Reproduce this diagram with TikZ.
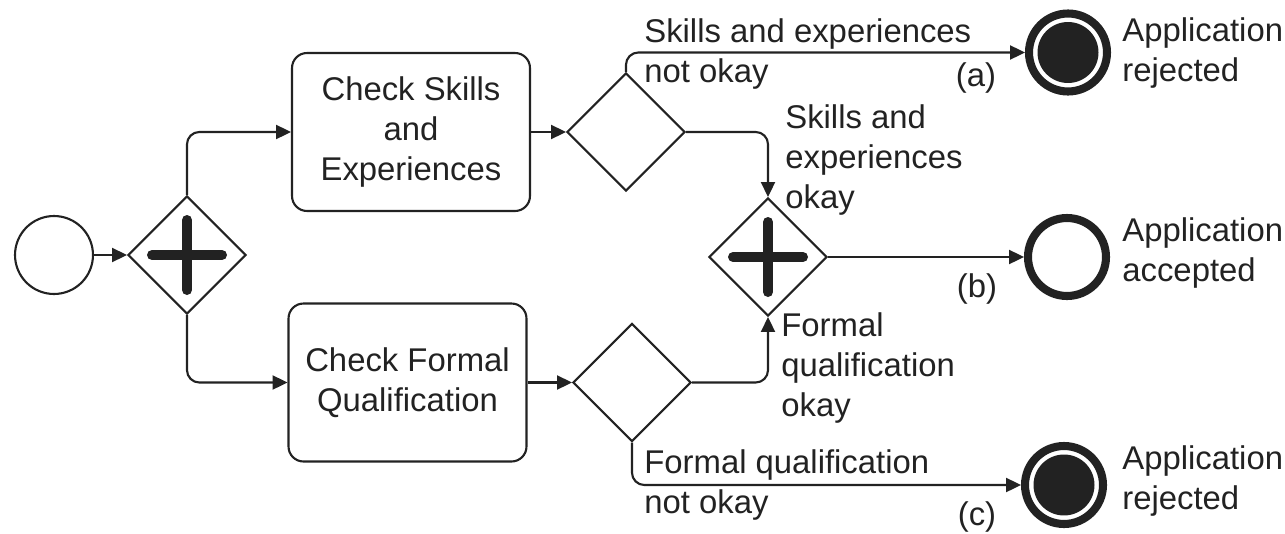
\documentclass[tikz,border=0pt]{standalone}
\usepackage{fontspec}
\setmainfont{Liberation Sans}
\usetikzlibrary{shapes.geometric,arrows.meta}
\definecolor{ink}{RGB}{34,34,34}
\begin{document}
\begin{tikzpicture}[x=0.02cm,y=-0.02cm,
  every node/.style={font=\fontsize{18.7}{22.7}\selectfont, text=ink},
  line/.style={draw=ink, line width=1.2pt},
  flow/.style={line, rounded corners=7pt, -{Triangle[length=8.5pt,width=8pt]}},
  startev/.style={circle, draw=ink, line width=1.2pt, minimum size=1.56cm, inner sep=0pt},
  endev/.style={circle, draw=ink, line width=4.6pt, minimum size=1.56cm, inner sep=0pt},
  task/.style={rectangle, rounded corners=8.5pt, draw=ink, line width=1.2pt,
    minimum width=4.76cm, minimum height=3.16cm, align=center, inner sep=0pt},
  gate/.style={diamond, aspect=1, draw=ink, line width=1.2pt,
    minimum width=2.36cm, minimum height=2.36cm, inner sep=0pt},
  plusbar/.style={draw=ink, line width=5.7pt, line cap=round},
  lbl/.style={anchor=west, align=left, inner sep=0pt}
]
\useasboundingbox (0,0) rectangle (1285,534);

% events, tasks and gateways
\node[startev] (start) at (54,255) {};
\node[gate] (par1) at (187,255) {};
\node[task] (task1) at (411,132) {Check Skills\\and\\Experiences};
\node[task] (task2) at (407.5,382.5) {Check Formal\\Qualification};
\node[gate] (xor1) at (626,132) {};
\node[gate] (xor2) at (632,382.5) {};
\node[gate] (par2) at (768,257) {};
\node[endev] (endA) at (1068,52.5) {};
\node[endev] (endB) at (1067,257) {};
\node[endev] (endC) at (1064,485) {};

% parallel markers
\foreach \g in {par1,par2}{
  \draw[plusbar] ([xshift=-0.7cm]\g.center) -- ([xshift=0.7cm]\g.center);
  \draw[plusbar] ([yshift=-0.7cm]\g.center) -- ([yshift=0.7cm]\g.center);
}

% filled centres of the terminate events
\fill[ink] (endA.center) circle[radius=0.61cm];
\fill[ink] (endC.center) circle[radius=0.61cm];

% sequence flows
\draw[flow] (start) -- (par1);
\draw[flow] (par1.north) |- (task1.west);
\draw[flow] (par1.south) |- (task2.west);
\draw[flow] (task1) -- (xor1);
\draw[flow] (task2) -- (xor2);
\draw[flow] (xor1.north) |- (endA.west);
\draw[flow] (xor1.east) -| (par2.north);
\draw[flow] (xor2.east) -| (par2.south);
\draw[flow] (xor2.south) |- (endC.west);
\draw[flow] (par2) -- (endB);

% condition labels
\node[lbl] (lA) at (644,54) {Skills and experiences\\not okay};
\node[lbl] (lB) at (785,160) {Skills and\\experiences\\okay};
\node[lbl] (lC) at (781,368) {Formal\\qualification\\okay};
\node[lbl] (lD) at (644,485) {Formal qualification\\not okay};
\node (ta) at (976,78) {(a)};
\node (tb) at (977,289) {(b)};
\node (tc) at (977,517) {(c)};

% end event labels
\node[lbl] (rA) at (1122,53) {Application\\rejected};
\node[lbl] (rB) at (1122,253) {Application\\accepted};
\node[lbl] (rC) at (1122,481) {Application\\rejected};
\end{tikzpicture}
\end{document}
